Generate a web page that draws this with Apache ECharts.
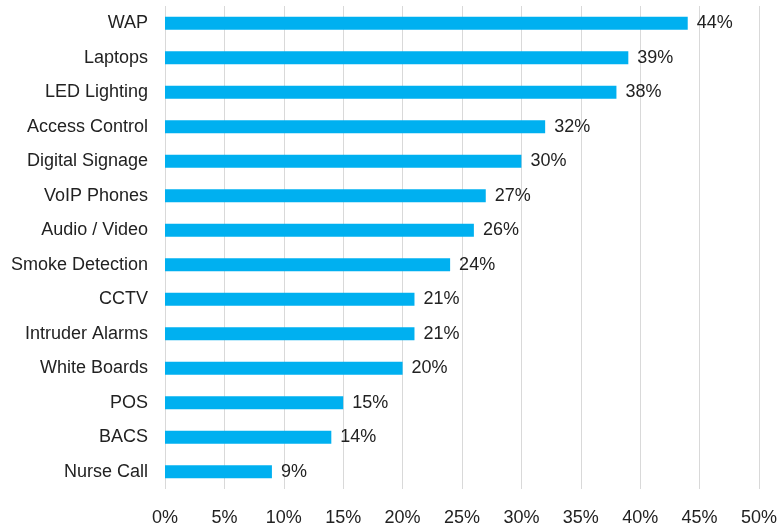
<!DOCTYPE html>
<html>
<head>
<meta charset="utf-8">
<script src="https://cdn.jsdelivr.net/npm/echarts@6/dist/echarts.min.js"></script>
<style>
  html, body { margin: 0; padding: 0; background: #fff; }
  #chart { width: 778px; height: 530px; }
</style>
</head>
<body>
<div id="chart"></div>
<script>
const categories = ['WAP', 'Laptops', 'LED Lighting', 'Access Control', 'Digital Signage', 'VoIP Phones',
  'Audio / Video', 'Smoke Detection', 'CCTV', 'Intruder Alarms', 'White Boards', 'POS', 'BACS', 'Nurse Call']
const values = [44, 39, 38, 32, 30, 27, 26, 24, 21, 21, 20, 15, 14, 9]

const font = '"Liberation Sans", Arial, sans-serif'

const chart = echarts.init(document.getElementById('chart'), null, { renderer: 'canvas' })
chart.setOption({
  animation: false,
  grid: { left: 165, right: 19, top: 6, bottom: 41, containLabel: false, outerBoundsMode: 'none' },
  xAxis: {
    type: 'value',
    min: 0,
    max: 50,
    interval: 5,
    axisLine: { show: false },
    axisTick: { show: false },
    splitLine: { lineStyle: { color: '#d9d9d9', width: 1 } },
    axisLabel: {
      formatter: '{value}%',
      margin: 20,
      color: '#222',
      fontFamily: font,
      fontSize: 18
    }
  },
  yAxis: {
    type: 'category',
    data: categories,
    inverse: true,
    axisLine: { show: false },
    axisTick: { show: false },
    axisLabel: {
      margin: 17,
      color: '#222',
      fontFamily: font,
      fontSize: 18
    }
  },
  series: [{
    type: 'bar',
    data: values,
    barWidth: 13,
    itemStyle: { color: '#00b0f0' },
    label: {
      show: true,
      position: 'right',
      distance: 9,
      formatter: '{c}%',
      color: '#222',
      fontFamily: font,
      fontSize: 18
    }
  }]
})
</script>
</body>
</html>
